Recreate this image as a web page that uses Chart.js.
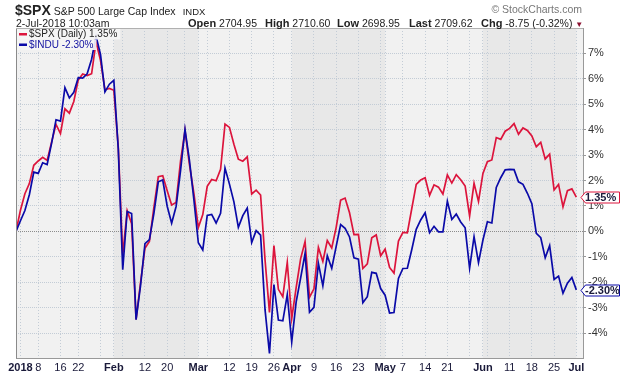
<!DOCTYPE html>
<html>
<head>
<meta charset="utf-8">
<script src="https://cdn.jsdelivr.net/npm/chart.js@4/dist/chart.umd.min.js"></script>
<style>
  body { margin: 0; background: #fff; font-family: Arial, "Liberation Sans", sans-serif; }
  #wrap { position: relative; width: 620px; height: 376px; }
  canvas { position: absolute; left: 0; top: 0; }
  .t { position: absolute; white-space: nowrap; color: #222; }
  .hd b { font-size: 11px; }
  .hd { font-size: 10.5px; top: 17px; line-height: 13px; }
</style>
</head>
<body>
<div id="wrap">
  <canvas id="chart" width="620" height="376"></canvas>
  <div class="t" style="left:15px;top:1px;line-height:17px">
    <b style="font-size:14px">$SPX</b><span style="font-size:10.5px;margin-left:3px">S&amp;P 500 Large Cap Index</span><span style="font-size:9.5px;margin-left:7px">INDX</span>
  </div>
  <div class="t" style="right:38px;top:3px;font-size:10.5px;line-height:13px;color:#777">&copy; StockCharts.com</div>
  <div class="t hd" style="left:16px">2-Jul-2018 10:03am</div>
  <div class="t hd" style="left:188px"><b>Open</b> 2704.95</div>
  <div class="t hd" style="left:265px"><b>High</b> 2710.60</div>
  <div class="t hd" style="left:337px"><b>Low</b> 2698.95</div>
  <div class="t hd" style="left:409px"><b>Last</b> 2709.62</div>
  <div class="t hd" style="left:481px"><b>Chg</b> -8.75 (-0.32%) <span style="color:#8b1030;font-size:8px">&#9660;</span></div>
</div>
<script>
// trading days (first point is the base, 0%)
const dates = [
  "2017-12-29",
  "2018-01-02","2018-01-03","2018-01-04","2018-01-05","2018-01-08","2018-01-09","2018-01-10","2018-01-11","2018-01-12",
  "2018-01-16","2018-01-17","2018-01-18","2018-01-19","2018-01-22","2018-01-23","2018-01-24","2018-01-25","2018-01-26",
  "2018-01-29","2018-01-30","2018-01-31",
  "2018-02-01","2018-02-02","2018-02-05","2018-02-06","2018-02-07","2018-02-08","2018-02-09","2018-02-12","2018-02-13",
  "2018-02-14","2018-02-15","2018-02-16","2018-02-20","2018-02-21","2018-02-22","2018-02-23","2018-02-26","2018-02-27",
  "2018-02-28",
  "2018-03-01","2018-03-02","2018-03-05","2018-03-06","2018-03-07","2018-03-08","2018-03-09","2018-03-12","2018-03-13",
  "2018-03-14","2018-03-15","2018-03-16","2018-03-19","2018-03-20","2018-03-21","2018-03-22","2018-03-23","2018-03-26",
  "2018-03-27","2018-03-28","2018-03-29",
  "2018-04-02","2018-04-03","2018-04-04","2018-04-05","2018-04-06","2018-04-09","2018-04-10","2018-04-11","2018-04-12",
  "2018-04-13","2018-04-16","2018-04-17","2018-04-18","2018-04-19","2018-04-20","2018-04-23","2018-04-24","2018-04-25",
  "2018-04-26","2018-04-27","2018-04-30",
  "2018-05-01","2018-05-02","2018-05-03","2018-05-04","2018-05-07","2018-05-08","2018-05-09","2018-05-10","2018-05-11",
  "2018-05-14","2018-05-15","2018-05-16","2018-05-17","2018-05-18","2018-05-21","2018-05-22","2018-05-23","2018-05-24",
  "2018-05-25","2018-05-29","2018-05-30","2018-05-31",
  "2018-06-01","2018-06-04","2018-06-05","2018-06-06","2018-06-07","2018-06-08","2018-06-11","2018-06-12","2018-06-13",
  "2018-06-14","2018-06-15","2018-06-18","2018-06-19","2018-06-20","2018-06-21","2018-06-22","2018-06-25","2018-06-26",
  "2018-06-27","2018-06-28","2018-06-29",
  "2018-07-02"
];

// % change since base
const spx = [
  0,
  0.83, 1.48, 1.88, 2.60, 2.77, 2.91, 2.79, 3.51, 4.21, 3.85, 4.82, 4.65, 5.11, 5.96, 6.19, 6.13, 6.20, 7.45, 6.73, 5.57, 5.62,
  5.55, 3.31, -0.92, 0.81, 0.30, -3.46, -2.02, -0.66, -0.40, 0.94, 2.15, 2.19, 1.60, 1.04, 1.14, 2.76, 3.96, 2.64, 1.50,
  0.15, 0.66, 1.77, 2.04, 1.99, 2.44, 4.22, 4.09, 3.43, 2.84, 2.76, 2.93, 1.47, 1.62, 1.43, -1.12, -3.19, -0.56, -2.28, -2.57, -1.22,
  -3.43, -2.21, -1.08, -0.40, -2.59, -2.26, -0.63, -1.18, -0.36, -0.65, 0.16, 1.23, 1.31, 0.73, -0.13, -0.12, -1.46, -1.28, -0.25, -0.14, -0.96,
  -0.70, -1.42, -1.64, -0.38, -0.04, -0.06, 0.90, 1.85, 2.02, 2.11, 1.42, 1.83, 1.74, 1.47, 2.22, 1.90, 2.23, 2.03, 1.78, 0.61, 1.89, 1.18,
  2.28, 2.74, 2.81, 3.69, 3.62, 3.94, 4.05, 4.24, 3.82, 4.07, 3.97, 3.75, 3.33, 3.50, 2.85, 3.04, 1.63, 1.85, 0.97, 1.60, 1.67,
  1.35
];
const indu = [
  0,
  0.42, 0.82, 1.44, 2.33, 2.28, 2.70, 2.63, 3.46, 4.39, 4.34, 5.65, 5.25, 5.47, 6.05, 6.03, 6.20, 6.77, 7.68, 6.96, 5.49, 5.79,
  5.94, 3.24, -1.51, 0.78, 0.70, -3.47, -2.14, -0.48, -0.32, 0.70, 1.95, 2.02, 0.99, 0.32, 0.98, 2.39, 4.01, 2.79, 1.25,
  -0.45, -0.73, 0.63, 0.67, 0.33, 0.71, 2.49, 1.86, 1.16, 0.16, 0.62, 0.92, -0.44, 0.03, -0.15, -3.08, -4.80, -2.09, -3.49, -3.52, -2.49,
  -4.35, -2.77, -1.84, -0.87, -3.18, -2.99, -1.26, -2.14, -0.96, -1.45, -0.59, 0.27, 0.12, -0.22, -1.04, -1.09, -2.81, -2.57, -1.61, -1.65, -2.25,
  -2.51, -3.21, -3.19, -1.85, -1.46, -1.45, -0.71, 0.08, 0.45, 0.73, -0.05, 0.20, -0.02, -0.02, 1.19, 0.47, 0.68, 0.37, 0.14, -1.45, -0.21, -1.23,
  -0.34, 0.38, 0.33, 1.73, 2.11, 2.42, 2.44, 2.43, 1.95, 1.85, 1.50, 1.09, -0.08, -0.25, -1.04, -0.56, -1.89, -1.76, -2.43, -2.04, -1.81,
  -2.30
];

const seriesNames = ["$SPX (Daily) 1.35%", "$INDU -2.30%"];
const lastLabels = ["1.35%", "-2.30%"];

const tickDates = ["2018-01-02","2018-01-08","2018-01-16","2018-01-22","2018-02-01","2018-02-12","2018-02-20",
  "2018-03-01","2018-03-12","2018-03-19","2018-03-26","2018-04-02","2018-04-09","2018-04-16","2018-04-23",
  "2018-05-01","2018-05-07","2018-05-14","2018-05-21","2018-06-01","2018-06-11","2018-06-18","2018-06-25","2018-07-02"];
const tickLabels = ["2018","8","16","22","Feb","12","20","Mar","12","19","26","Apr","9","16","23",
  "May","7","14","21","Jun","11","18","25","Jul"];
const shadedMonths = ["02", "04", "06"];

const RED = "#dc143c";
const BLUE = "#0a0aa8";
const GRID = "#c3ccd6";

// grid lines: first day of every week and every month
const dows = dates.map(d => new Date(d + "T12:00:00Z").getUTCDay());
const gridIdx = [];
dates.forEach((d, i) => {
  if (i === 0) return;
  const newMonth = d.slice(5, 7) !== dates[i - 1].slice(5, 7);
  if (newMonth || dows[i] <= dows[i - 1]) gridIdx.push(i);
});
const labelAt = {};
tickDates.forEach((d, k) => { labelAt[dates.indexOf(d)] = tickLabels[k]; });

const bands = {
  id: "bands",
  beforeDraw(chart) {
    const { ctx, chartArea: a, scales: { x } } = chart;
    ctx.save();
    ctx.fillStyle = "#f1f1f1";
    ctx.fillRect(a.left, a.top, a.width, a.height);
    ctx.fillStyle = "#e8e8e8";
    let start = null;
    dates.forEach((d, i) => {
      const isShade = shadedMonths.includes(d.slice(5, 7));
      if (isShade && start === null) start = i;
      if (!isShade && start !== null) {
        const x0 = x.getPixelForValue(start), x1 = x.getPixelForValue(i);
        ctx.fillRect(x0, a.top, x1 - x0, a.height);
        start = null;
      }
    });
    if (start !== null) {
      const x0 = x.getPixelForValue(start);
      ctx.fillRect(x0, a.top, a.right - x0, a.height);
    }
    ctx.restore();
  }
};

const overlay = {
  id: "overlay",
  afterDraw(chart) {
    const { ctx, chartArea: a, scales: { y } } = chart;
    ctx.save();
    // plot frame
    ctx.strokeStyle = "#8a8a8a";
    ctx.lineWidth = 1;
    ctx.beginPath();
    ctx.moveTo(a.left + 0.5, a.bottom);
    ctx.lineTo(a.left + 0.5, a.top + 0.5);
    ctx.stroke();
    ctx.strokeStyle = "#b0b0b0";
    ctx.beginPath();
    ctx.moveTo(a.left, a.top + 0.5);
    ctx.lineTo(a.right, a.top + 0.5);
    ctx.stroke();

    // legend
    ctx.font = "10px Arial, 'Liberation Sans', sans-serif";
    ctx.textBaseline = "middle";
    const colors = [RED, BLUE];
    const textColors = ["#222", "#1010a0"];
    seriesNames.forEach((name, k) => {
      const yy = a.top + 6 + k * 10.5;
      const w = ctx.measureText(name).width;
      ctx.fillStyle = "rgba(245,245,245,0.92)";
      ctx.fillRect(a.left + 1, yy - 5, w + 15, 10.5);
      ctx.fillStyle = colors[k];
      ctx.fillRect(a.left + 3, yy - 1, 8, 2.5);
      ctx.fillStyle = textColors[k];
      ctx.fillText(name, a.left + 13, yy + 0.5);
    });

    // last-value tags on the right axis
    const lasts = [spx[spx.length - 1], indu[indu.length - 1]];
    ctx.font = "bold 11px Arial, 'Liberation Sans', sans-serif";
    lasts.forEach((v, k) => {
      const yy = Math.round(y.getPixelForValue(v)) + 0.5;
      const x0 = a.right - 2;
      ctx.beginPath();
      ctx.moveTo(x0, yy);
      ctx.lineTo(x0 + 4.5, yy - 5.5);
      ctx.lineTo(619.5, yy - 5.5);
      ctx.lineTo(619.5, yy + 5.5);
      ctx.lineTo(x0 + 4.5, yy + 5.5);
      ctx.closePath();
      ctx.fillStyle = "#fff";
      ctx.fill();
      ctx.strokeStyle = colors[k];
      ctx.lineWidth = 1;
      ctx.stroke();
      ctx.fillStyle = "#1a1a3a";
      ctx.textAlign = "left";
      ctx.fillText(lastLabels[k], x0 + 4, yy + 0.5);
    });
    ctx.restore();
  }
};

new Chart(document.getElementById("chart"), {
  type: "line",
  data: {
    datasets: [
      {
        label: seriesNames[0],
        data: spx.map((v, i) => ({ x: i, y: v })),
        borderColor: RED,
        borderWidth: 1.7,
        pointRadius: 0,
        tension: 0,
        order: 1
      },
      {
        label: seriesNames[1],
        data: indu.map((v, i) => ({ x: i, y: v })),
        borderColor: BLUE,
        borderWidth: 1.7,
        pointRadius: 0,
        tension: 0,
        order: 0
      }
    ]
  },
  options: {
    responsive: false,
    animation: false,
    layout: { padding: { left: 16, top: 28, right: 0, bottom: 0 } },
    plugins: {
      legend: { display: false },
      tooltip: { enabled: false }
    },
    scales: {
      x: {
        type: "linear",
        min: 0,
        max: 127.5,
        afterBuildTicks: (axis) => { axis.ticks = gridIdx.map(v => ({ value: v })); },
        afterFit: (axis) => { axis.height = 17.5; },
        grid: { color: GRID, drawTicks: false },
        border: { display: true, color: "#999", dash: [1, 2] },
        ticks: {
          autoSkip: false,
          maxRotation: 0,
          padding: 3,
          color: "#1a1a3a",
          font: (ctx) => {
            const lab = ctx.tick ? labelAt[ctx.tick.value] : "";
            const bold = lab && (isNaN(lab) || lab.length === 4);
            return { size: 11, weight: bold ? "bold" : "normal", family: "Arial, 'Liberation Sans', sans-serif" };
          },
          callback: (v) => labelAt[v] ?? ""
        }
      },
      y: {
        position: "right",
        min: -5,
        max: 8,
        afterFit: (axis) => { axis.width = 37; },
        grid: {
          color: (ctx) => (ctx.tick && ctx.tick.value === 0 ? "#8c8c8c" : GRID),
          tickColor: "#999",
          tickLength: 3
        },
        border: { display: true, color: "#999", dash: [1, 1] },
        ticks: {
          stepSize: 1,
          padding: 2,
          color: "#333",
          font: { size: 11, family: "Arial, 'Liberation Sans', sans-serif" },
          callback: (v) => (v === -5 || v === 8 ? null : v + "%")
        }
      }
    }
  },
  plugins: [bands, overlay]
});
</script>
</body>
</html>
